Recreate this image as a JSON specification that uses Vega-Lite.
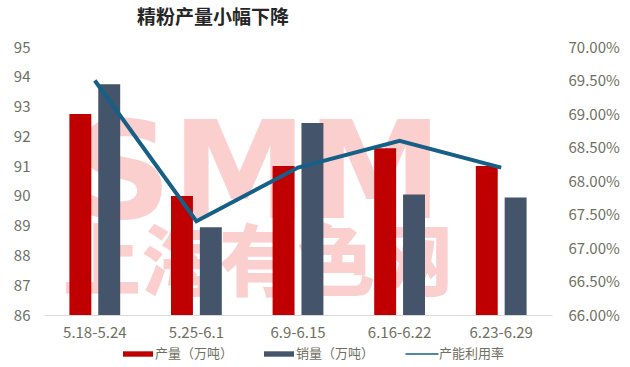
{
  "$schema": "https://vega.github.io/schema/vega-lite/v6.json",
  "width": 508,
  "height": 268,
  "autosize": "none",
  "padding": {"left": 44, "top": 47, "right": 78, "bottom": 52},
  "background": "white",
  "title": {"text": "精粉产量小幅下降", "anchor": "start", "frame": "group", "dx": 93, "offset": 12, "fontSize": 19, "fontWeight": "bold", "color": "#262626", "font": "Noto Sans CJK SC"},
  "config": {
    "view": {"stroke": null},
    "axisX": {"title": null, "labelAngle": 0, "ticks": false, "bandPosition": 0.5, "domainColor": "#D9D9D9", "domainWidth": 1, "labelColor": "#707060", "labelFontSize": 15, "labelPadding": 10, "labelFont": "Noto Sans CJK SC", "labelOverlap": false},
    "axisY": {"title": null, "ticks": false, "domain": false, "grid": false, "labelColor": "#707060", "labelFontSize": 15, "labelFont": "Noto Sans CJK SC", "labelOverlap": false}
  },
  "datasets": {
    "bars": [
      {"week": "5.18-5.24", "series": "产量（万吨）", "value": 92.75},
      {"week": "5.18-5.24", "series": "销量（万吨）", "value": 93.75},
      {"week": "5.25-6.1", "series": "产量（万吨）", "value": 90.0},
      {"week": "5.25-6.1", "series": "销量（万吨）", "value": 88.95},
      {"week": "6.9-6.15", "series": "产量（万吨）", "value": 91.0},
      {"week": "6.9-6.15", "series": "销量（万吨）", "value": 92.45},
      {"week": "6.16-6.22", "series": "产量（万吨）", "value": 91.6},
      {"week": "6.16-6.22", "series": "销量（万吨）", "value": 90.05},
      {"week": "6.23-6.29", "series": "产量（万吨）", "value": 91.0},
      {"week": "6.23-6.29", "series": "销量（万吨）", "value": 89.95}
    ],
    "rate": [
      {"week": "5.18-5.24", "rate": 0.695},
      {"week": "5.25-6.1", "rate": 0.674},
      {"week": "6.9-6.15", "rate": 0.682},
      {"week": "6.16-6.22", "rate": 0.686},
      {"week": "6.23-6.29", "rate": 0.682}
    ],
    "wm1": [{"label": "SMM"}],
    "wm2": [{"label": "上海有色网"}]
  },
  "layer": [
    {
      "layer": [
        {
          "data": {"name": "wm1"},
          "mark": {"type": "text", "font": "DejaVu Sans", "fontWeight": "bold", "fontSize": 136, "color": "#FCCFCF", "align": "center", "baseline": "alphabetic", "dx": -40},
          "encoding": {
            "x": {"datum": "6.9-6.15", "type": "nominal", "axis": {"bandPosition": 0.5}},
            "y": {"datum": 89.26, "type": "quantitative", "scale": {"domain": [86, 95], "zero": false, "nice": false}, "axis": {"values": [86, 87, 88, 89, 90, 91, 92, 93, 94, 95], "labelPadding": 14}},
            "text": {"field": "label", "type": "nominal"}
          }
        },
        {
          "data": {"name": "wm2"},
          "mark": {"type": "text", "font": "Noto Sans CJK SC", "fontWeight": 900, "fontSize": 78, "color": "#FCCFCF", "align": "center", "baseline": "alphabetic", "dx": -40},
          "encoding": {
            "x": {"datum": "6.9-6.15", "type": "nominal", "axis": {"bandPosition": 0.5}},
            "y": {"datum": 86.85, "type": "quantitative", "scale": {"domain": [86, 95], "zero": false, "nice": false}, "axis": {"values": [86, 87, 88, 89, 90, 91, 92, 93, 94, 95], "labelPadding": 14}},
            "text": {"field": "label", "type": "nominal"}
          }
        },
        {
          "data": {"name": "bars"},
          "mark": {"type": "bar"},
          "encoding": {
            "x": {
              "field": "week", "type": "nominal",
              "scale": {"domain": ["5.18-5.24", "5.25-6.1", "6.9-6.15", "6.16-6.22", "6.23-6.29"], "paddingInner": 0.5, "paddingOuter": 0.25},
              "axis": {"bandPosition": 0.5}
            },
            "xOffset": {"field": "series", "type": "nominal", "scale": {"domain": ["产量（万吨）", "销量（万吨）"], "paddingInner": 0.24, "paddingOuter": 0}},
            "y": {
              "field": "value", "type": "quantitative",
              "scale": {"domain": [86, 95], "zero": false, "nice": false},
              "axis": {"values": [86, 87, 88, 89, 90, 91, 92, 93, 94, 95], "labelPadding": 14}
            },
            "y2": {"datum": 86},
            "color": {
              "field": "series", "type": "nominal",
              "scale": {"domain": ["产量（万吨）", "销量（万吨）", "产能利用率"], "range": ["#C00000", "#44546A", "#165F86"]},
              "legend": {
                "title": null, "orient": "none", "legendX": 79, "legendY": 292, "direction": "horizontal",
                "symbolSize": 900, "labelFontSize": 13, "labelColor": "#707060", "labelOffset": 2, "columnPadding": 30, "labelFont": "Noto Sans CJK SC",
                "encode": {
                  "symbols": {
                    "update": {
                      "shape": {"signal": "datum.value === '产能利用率' ? 'M-1.1,-0.055H1.1V0.055H-1.1Z' : 'M-1,-0.18H1V0.18H-1Z'"},
                      "fill": {"signal": "datum.value === '产量（万吨）' ? '#C00000' : datum.value === '销量（万吨）' ? '#44546A' : '#165F86'"},
                      "stroke": {"value": "transparent"},
                      "strokeWidth": {"value": 0},
                      "opacity": {"value": 1}
                    }
                  }
                }
              }
            }
          }
        }
      ]
    },
    {
      "data": {"name": "rate"},
      "mark": {"type": "line", "strokeWidth": 4},
      "encoding": {
        "x": {"field": "week", "type": "nominal", "axis": {"bandPosition": 0.5}},
        "y": {
          "field": "rate", "type": "quantitative",
          "scale": {"domain": [0.66, 0.70], "zero": false, "nice": false},
          "axis": {"orient": "right", "format": ".2%", "values": [0.66, 0.665, 0.67, 0.675, 0.68, 0.685, 0.69, 0.695, 0.70], "labelPadding": 16}
        },
        "color": {"datum": "产能利用率"}
      }
    }
  ],
  "resolve": {"scale": {"y": "independent"}}
}
